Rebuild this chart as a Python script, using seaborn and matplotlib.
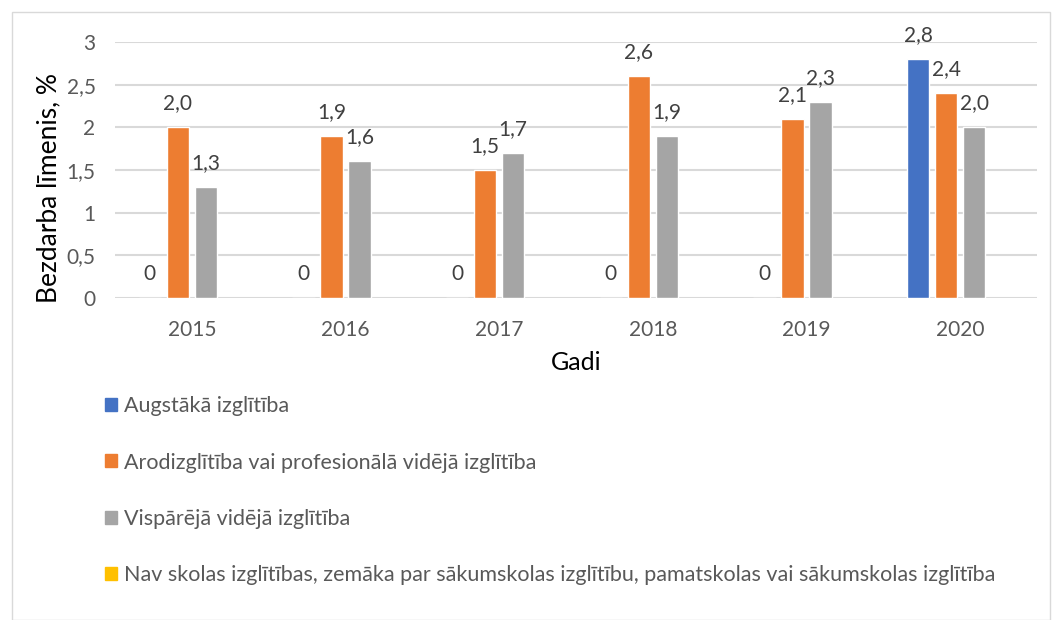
import numpy as np
import pandas as pd
import seaborn as sns
import matplotlib.pyplot as plt
from matplotlib.patches import Patch, Rectangle

# Dati
gadi = ['2015', '2016', '2017', '2018', '2019', '2020']
augstaka = [0, 0, 0, 0, 0, 2.8]
arods = [2.0, 1.9, 1.5, 2.6, 2.1, 2.4]
visparejā = [1.3, 1.6, 1.7, 1.9, 2.3, 2.0]
nav_skolas = [np.nan] * 6  # nav datu

s1 = 'Augstākā izglītība'
s2 = 'Arodizglītība vai profesionālā vidējā izglītība'
s3 = 'Vispārējā vidējā izglītība'
s4 = 'Nav skolas izglītības, zemāka par sākumskolas izglītību, pamatskolas vai sākumskolas izglītība'
grupas = [s1, s2, s3, s4]

df = pd.DataFrame({
    'Gadi': gadi * 4,
    'Vertiba': augstaka + arods + visparejā + nav_skolas,
    'Grupa': [s1] * 6 + [s2] * 6 + [s3] * 6 + [s4] * 6,
})
krasas = {s1: '#4472c4', s2: '#ed7d31', s3: '#a5a5a5', s4: '#ffc000'}

sns.set_style('white')
plt.rcParams['font.family'] = ['Lato', 'DejaVu Sans']

fig = plt.figure(figsize=(10.54, 6.2), dpi=100)
ax = fig.add_axes([115 / 1054, 1 - 298 / 620, 922 / 1054, 256 / 620])

sns.barplot(data=df, x='Gadi', y='Vertiba', hue='Grupa', hue_order=grupas,
            palette=krasas, saturation=1, width=0.73, gap=0.2, order=gadi, ax=ax, legend=False)

def fmt(v):
    if np.isnan(v):
        return ''
    return '0' if v == 0 else f'{v:.1f}'.replace('.', ',')

for cont in ax.containers:
    ax.bar_label(cont, labels=[fmt(b.get_height()) for b in cont], padding=10,
                 fontsize=15, color='#404040')

ax.set_ylim(0, 3)
ax.set_xlim(-0.5, 5.5)
ax.set_yticks([0, 0.5, 1, 1.5, 2, 2.5, 3])
ax.set_yticklabels(['0', '0,5', '1', '1,5', '2', '2,5', '3'])
ax.tick_params(axis='both', labelsize=15, labelcolor='#595959', length=0)
ax.tick_params(axis='x', pad=16)
ax.tick_params(axis='y', pad=14)
ax.grid(axis='y', color='#d9d9d9', linewidth=1.5)
ax.set_axisbelow(True)
for s in ax.spines.values():
    s.set_visible(False)
ax.set_xlabel('Gadi', fontsize=18, color='black', labelpad=8)
ax.set_ylabel('Bezdarba līmenis, %', fontsize=19, color='black')
ax.yaxis.set_label_coords(-0.058, 0.43)

handles = [Patch(color=krasas[s]) for s in grupas]
fig.legend(handles, grupas, loc='upper left', bbox_to_anchor=(86 / 1054, 1 - 377 / 620),
           frameon=False, fontsize=15.5, labelcolor='#595959', handlelength=0.55, handleheight=0.55,
           handletextpad=0.3, labelspacing=1.68)

fig.patches.append(Rectangle((12 / 1054, 0), 1 - 16 / 1054, 1 - 12 / 620, transform=fig.transFigure,
                             fill=False, edgecolor='#d9d9d9', linewidth=1))

fig.savefig('out.png', dpi=100)
